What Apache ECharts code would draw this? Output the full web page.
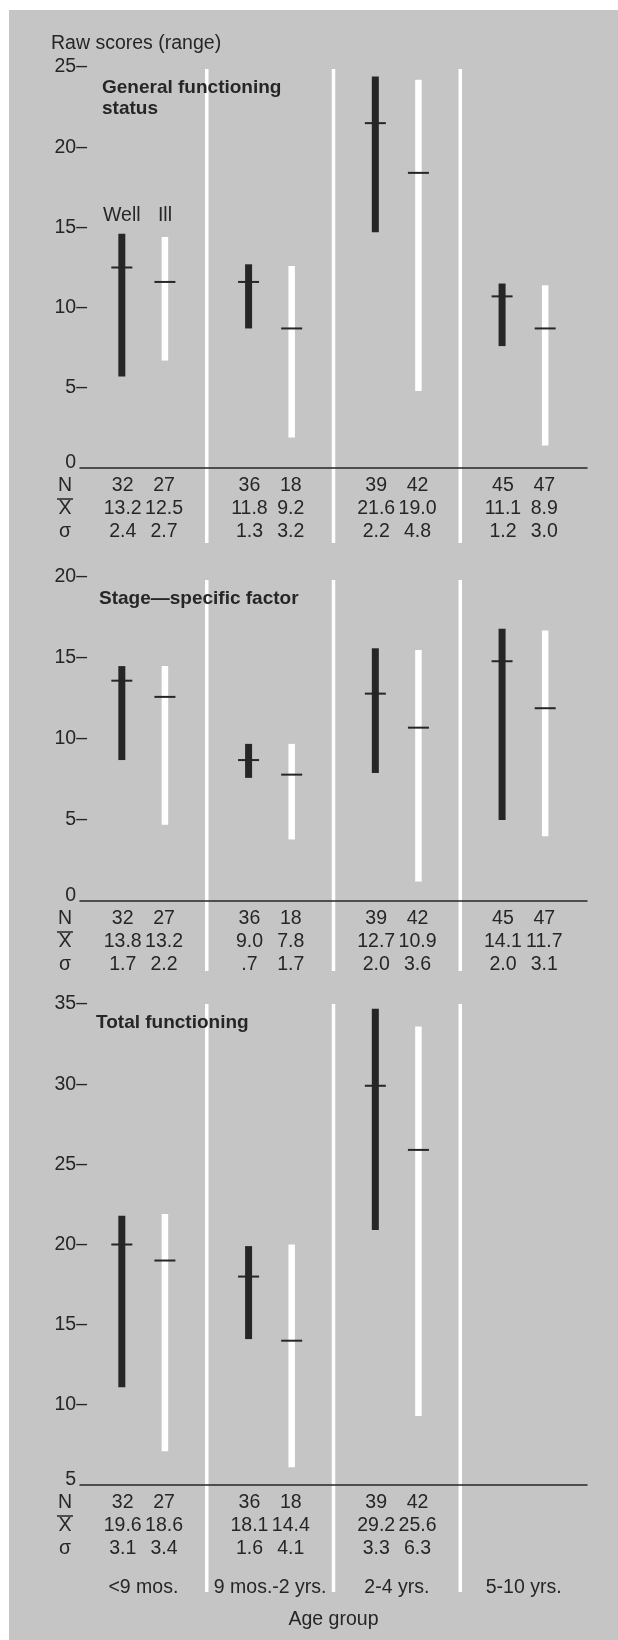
<!DOCTYPE html>
<html lang="en">
<head>
<meta charset="UTF-8">
<title>Raw scores by age group</title>
<script src="https://cdn.jsdelivr.net/npm/echarts@6/dist/echarts.min.js"></script>
<style>
  body { margin: 0; background: #fff; }
  #chart { width: 618px; height: 1640px; }
</style>
</head>
<body>
<div id="chart"></div>
<script>
// categories
var ageGroups = ['<9 mos.', '9 mos.-2 yrs.', '2-4 yrs.', '5-10 yrs.'];

// General functioning status: ranges and the tick mark on each bar
var genWellLow  = [5.7, 8.7, 14.7, 7.6];
var genWellHigh = [14.6, 12.7, 24.4, 11.5];
var genWellMark = [12.5, 11.6, 21.5, 10.7];
var genIllLow   = [6.7, 1.9, 4.8, 1.4];
var genIllHigh  = [14.4, 12.6, 24.2, 11.4];
var genIllMark  = [11.6, 8.7, 18.4, 8.7];
var genNWell    = ['32', '36', '39', '45'];
var genNIll     = ['27', '18', '42', '47'];
var genMeanWell = ['13.2', '11.8', '21.6', '11.1'];
var genMeanIll  = ['12.5', '9.2', '19.0', '8.9'];
var genSdWell   = ['2.4', '1.3', '2.2', '1.2'];
var genSdIll    = ['2.7', '3.2', '4.8', '3.0'];

// Stage-specific factor
var stgWellLow  = [8.7, 7.6, 7.9, 5.0];
var stgWellHigh = [14.5, 9.7, 15.6, 16.8];
var stgWellMark = [13.6, 8.7, 12.8, 14.8];
var stgIllLow   = [4.7, 3.8, 1.2, 4.0];
var stgIllHigh  = [14.5, 9.7, 15.5, 16.7];
var stgIllMark  = [12.6, 7.8, 10.7, 11.9];
var stgNWell    = ['32', '36', '39', '45'];
var stgNIll     = ['27', '18', '42', '47'];
var stgMeanWell = ['13.8', '9.0', '12.7', '14.1'];
var stgMeanIll  = ['13.2', '7.8', '10.9', '11.7'];
var stgSdWell   = ['1.7', '.7', '2.0', '2.0'];
var stgSdIll    = ['2.2', '1.7', '3.6', '3.1'];

// Total functioning (no 5-10 yrs. group)
var totWellLow  = [11.1, 14.1, 20.9, null];
var totWellHigh = [21.8, 19.9, 34.7, null];
var totWellMark = [20.0, 18.0, 29.9, null];
var totIllLow   = [7.1, 6.1, 9.3, null];
var totIllHigh  = [21.9, 20.0, 33.6, null];
var totIllMark  = [19.0, 14.0, 25.9, null];
var totNWell    = ['32', '36', '39', null];
var totNIll     = ['27', '18', '42', null];
var totMeanWell = ['19.6', '18.1', '29.2', null];
var totMeanIll  = ['18.6', '14.4', '25.6', null];
var totSdWell   = ['3.1', '1.6', '3.3', null];
var totSdIll    = ['3.4', '4.1', '6.3', null];

var INK = '#262626';
var BG = '#c5c5c5';
var FONT = '"Liberation Sans", Arial, sans-serif';
var FS = 19.5;
var TXT = FS + 'px ' + FONT;
var OFF = 0.17;    // bar offset from category centre, share of band width
var TOFF = 0.163;  // table numbers sit a little closer together

// range bars: black = well, white = ill, each with a short dark tick
function barsRenderer(wl, wh, wm, il, ih, im, withKey) {
  return function (params, api) {
    var i = api.value(0);
    var dx = api.size([1, 0])[0] * OFF;
    var kids = [];
    var sets = [
      { lo: wl[i], hi: wh[i], mk: wm[i], fill: INK, w: 7, off: -dx, key: 'Well' },
      { lo: il[i], hi: ih[i], mk: im[i], fill: '#ffffff', w: 6.5, off: dx, key: 'Ill' }
    ];
    var keyY = null;
    sets.forEach(function (s) {
      if (s.lo == null) return;
      var t = api.coord([i, s.hi]);
      var b = api.coord([i, s.lo]);
      var m = api.coord([i, s.mk]);
      var x = t[0] + s.off;
      kids.push({ type: 'rect', shape: { x: x - s.w / 2, y: t[1], width: s.w, height: b[1] - t[1] },
                  style: { fill: s.fill } });
      kids.push({ type: 'line', shape: { x1: x - 10.5, y1: m[1], x2: x + 10.5, y2: m[1] },
                  style: { stroke: INK, lineWidth: 2 } });
      if (withKey && i === 0) {
        if (keyY === null) keyY = t[1] - 18;
        kids.push({ type: 'text', style: { text: s.key, x: x, y: keyY, fill: INK, font: TXT,
                    align: 'center', verticalAlign: 'middle' } });
      }
    });
    return { type: 'group', children: kids };
  };
}

// N / mean / sd rows under the axis, plus the white separators
function tableRenderer(rows, yMin, yMax, topPad, reach) {
  var offs = [18, 41, 64];
  return function (params, api) {
    var i = api.value(0);
    var bw = api.size([1, 0])[0];
    var dx = bw * TOFF;
    var base = api.coord([i, yMin]);
    var top = api.coord([i, yMax]);
    var kids = [];
    if (i > 0) {
      kids.push({ type: 'rect', shape: { x: base[0] - bw / 2 - 1.75, y: top[1] + topPad,
                  width: 3.5, height: base[1] + reach - top[1] - topPad },
                  style: { fill: '#ffffff' } });
    }
    rows.forEach(function (r, k) {
      var y = base[1] + offs[k];
      if (r[0][i] != null) {
        kids.push({ type: 'text', style: { text: r[0][i], x: base[0] - dx, y: y, fill: INK, font: TXT,
                    align: 'center', verticalAlign: 'middle' } });
        kids.push({ type: 'text', style: { text: r[1][i], x: base[0] + dx, y: y, fill: INK, font: TXT,
                    align: 'center', verticalAlign: 'middle' } });
      }
      if (i === 0) {
        var lx = base[0] - bw / 2 - 15;
        kids.push({ type: 'text', style: { text: ['N', 'X', 'σ'][k], x: lx, y: y, fill: INK, font: TXT,
                    align: 'center', verticalAlign: 'middle' } });
        if (k === 1) {
          kids.push({ type: 'line', shape: { x1: lx - 8, y1: y - 10, x2: lx + 8, y2: y - 10 },
                      style: { stroke: INK, lineWidth: 1.5 } });
        }
      }
    });
    return { type: 'group', children: kids };
  };
}

function yAxisFor(g, min, max) {
  return {
    type: 'value', gridIndex: g, min: min, max: max, interval: 5,
    splitLine: { show: false }, axisLine: { show: false }, axisTick: { show: false },
    axisLabel: {
      margin: -7, color: INK, fontSize: FS, fontFamily: FONT,
      formatter: function (v) {
        return v === min ? '{lo|' + v + '}{hide|–}' : v + '–';
      },
      rich: {
        lo: { color: INK, fontSize: FS, fontFamily: FONT, padding: [0, 0, 10, 0] },
        hide: { color: 'transparent', fontSize: FS, fontFamily: FONT, padding: [0, 0, 10, 0] }
      }
    }
  };
}

function xAxisFor(g, showLabels) {
  var ax = {
    type: 'category', gridIndex: g, data: ageGroups, z: 10,
    axisLine: { show: true, lineStyle: { color: INK, width: 1.5 } },
    axisTick: { show: false }, splitLine: { show: false },
    axisLabel: { show: showLabels, interval: 0, margin: 93, color: INK, fontSize: FS, fontFamily: FONT }
  };
  if (showLabels) {
    ax.name = 'Age group';
    ax.nameLocation = 'middle';
    ax.nameGap = 125;
    ax.nameTextStyle = { color: INK, fontSize: FS, fontFamily: FONT };
  }
  return ax;
}

var idx = ageGroups.map(function (g, i) { return [i, 0]; });
var boldTitle = { color: INK, fontSize: 19, fontWeight: 'bold', fontFamily: FONT, lineHeight: 21 };

var chart = echarts.init(document.getElementById('chart'));
chart.setOption({
  backgroundColor: '#ffffff',
  animation: false,
  graphic: [{ type: 'rect', z: -100, silent: true, shape: { x: 9, y: 10, width: 609, height: 1630 },
              style: { fill: BG } }],
  title: [
    { text: 'Raw scores (range)', left: 51, top: 33, padding: 0,
      textStyle: { color: INK, fontSize: FS, fontWeight: 'normal', fontFamily: FONT, lineHeight: 21 } },
    { text: 'General functioning\nstatus', left: 102, top: 77, padding: 0, textStyle: boldTitle },
    { text: 'Stage—specific factor', left: 99, top: 588, padding: 0, textStyle: boldTitle },
    { text: 'Total functioning', left: 96, top: 1012, padding: 0, textStyle: boldTitle }
  ],
  grid: [
    { left: 80, right: 31, top: 67, height: 401, containLabel: false, outerBoundsMode: 'none' },
    { left: 80, right: 31, top: 577, height: 324, containLabel: false, outerBoundsMode: 'none' },
    { left: 80, right: 31, top: 1004, height: 481, containLabel: false, outerBoundsMode: 'none' }
  ],
  xAxis: [xAxisFor(0, false), xAxisFor(1, false), xAxisFor(2, true)],
  yAxis: [yAxisFor(0, 0, 25), yAxisFor(1, 0, 20), yAxisFor(2, 5, 35)],
  series: [
    { type: 'custom', xAxisIndex: 0, yAxisIndex: 0, data: idx, clip: false, silent: true, z: 1,
      renderItem: tableRenderer([[genNWell, genNIll], [genMeanWell, genMeanIll], [genSdWell, genSdIll]], 0, 25, 2, 75) },
    { type: 'custom', xAxisIndex: 0, yAxisIndex: 0, data: idx, clip: false, silent: true, z: 3,
      renderItem: barsRenderer(genWellLow, genWellHigh, genWellMark, genIllLow, genIllHigh, genIllMark, true) },
    { type: 'custom', xAxisIndex: 1, yAxisIndex: 1, data: idx, clip: false, silent: true, z: 1,
      renderItem: tableRenderer([[stgNWell, stgNIll], [stgMeanWell, stgMeanIll], [stgSdWell, stgSdIll]], 0, 20, 3, 70) },
    { type: 'custom', xAxisIndex: 1, yAxisIndex: 1, data: idx, clip: false, silent: true, z: 3,
      renderItem: barsRenderer(stgWellLow, stgWellHigh, stgWellMark, stgIllLow, stgIllHigh, stgIllMark, false) },
    { type: 'custom', xAxisIndex: 2, yAxisIndex: 2, data: idx, clip: false, silent: true, z: 1,
      renderItem: tableRenderer([[totNWell, totNIll], [totMeanWell, totMeanIll], [totSdWell, totSdIll]], 5, 35, 0, 107) },
    { type: 'custom', xAxisIndex: 2, yAxisIndex: 2, data: idx, clip: false, silent: true, z: 3,
      renderItem: barsRenderer(totWellLow, totWellHigh, totWellMark, totIllLow, totIllHigh, totIllMark, false) }
  ]
});
</script>
</body>
</html>
